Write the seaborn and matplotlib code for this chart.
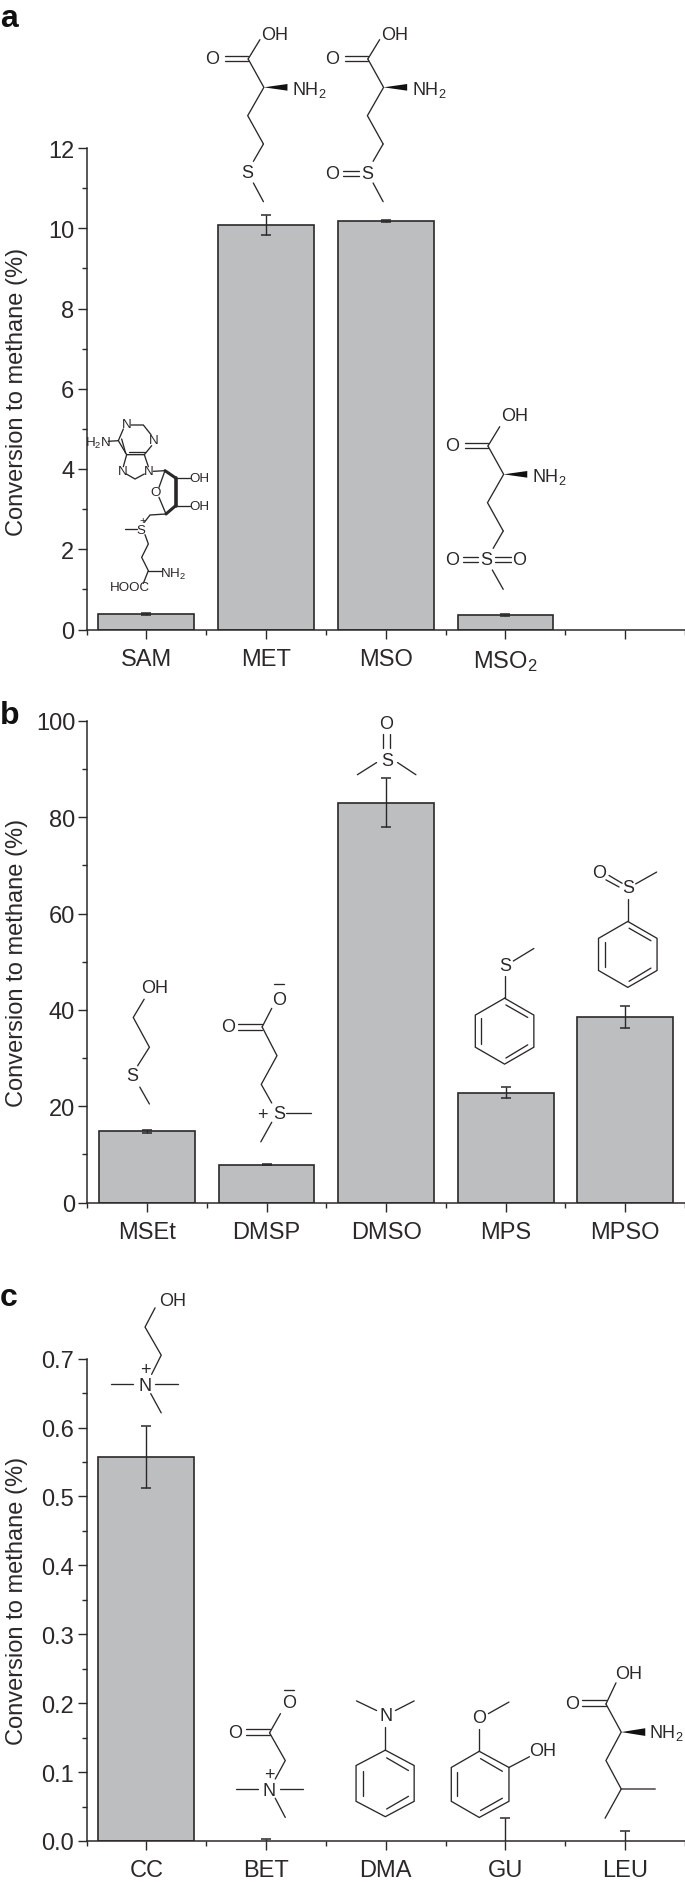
import matplotlib
matplotlib.use('Agg')
import matplotlib.pyplot as plt
from matplotlib.ticker import MultipleLocator, FixedLocator, NullFormatter
import numpy as np
import pandas as pd
import seaborn as sns

W, H = 685, 1883
INK = '#2b2829'
BAR = '#bcbec0'

# values
labels_a = ['SAM', 'MET', 'MSO', 'MSO$_2$', '']
values_a = [0.39, 10.07, 10.18, 0.36]
errors_a = [0.03, 0.25, 0.03, 0.03]

labels_b = ['MSEt', 'DMSP', 'DMSO', 'MPS', 'MPSO']
values_b = [14.8, 7.8, 83.0, 22.8, 38.5]
errors_b = [0.3, 0.1, 5.1, 1.1, 2.25]

labels_c = ['CC', 'BET', 'DMA', 'GU', 'LEU']
values_c = [0.557, 0.0, 0.0, 0.0, 0.0]
errors_c = [0.045, 0.003, 0.0, 0.0335, 0.014]

sns.set_theme(style='ticks')
plt.rcParams['font.family'] = ['Liberation Sans', 'DejaVu Sans']
plt.rcParams['mathtext.default'] = 'regular'
plt.rcParams['text.color'] = INK
plt.rcParams['axes.labelcolor'] = INK
plt.rcParams['xtick.color'] = INK
plt.rcParams['ytick.color'] = INK

fig = plt.figure(figsize=(W / 100, H / 100), dpi=100)


def draw_panel(box, labels, values, errors, ymax, major, minor, label_y=0.5):
    left, top, right, bottom = box
    ax = fig.add_axes([left / W, 1 - bottom / H, (right - left) / W, (bottom - top) / H])
    df = pd.DataFrame({'name': labels[:len(values)], 'value': values})
    sns.barplot(data=df, x='name', y='value', order=labels, color=BAR, saturation=1,
                width=0.8, edgecolor=INK, linewidth=1.2, errorbar=None, ax=ax)
    # empty bars leave no outline on the axis
    for p in ax.patches:
        if p.get_height() == 0:
            p.set_visible(False)
    keep = [i for i, e in enumerate(errors) if e > 0]
    ax.errorbar(keep, [values[i] for i in keep], yerr=[errors[i] for i in keep], fmt='none',
                ecolor=INK, elinewidth=1.0, capsize=3.3, capthick=1.1, zorder=5)
    ax.set_xlim(-0.5, len(labels) - 0.5)
    ax.set_ylim(0, ymax)
    ax.yaxis.set_major_locator(MultipleLocator(major))
    ax.yaxis.set_minor_locator(MultipleLocator(minor))
    ax.xaxis.set_minor_locator(FixedLocator(np.arange(len(labels) + 1) - 0.5))
    ax.xaxis.set_minor_formatter(NullFormatter())
    ax.tick_params(axis='both', which='major', length=6.3, width=1.0, labelsize=17, pad=2.5)
    ax.tick_params(axis='x', which='major', pad=7)
    ax.tick_params(axis='both', which='minor', length=3.6, width=1.0)
    sns.despine(ax=ax)
    for side in ['left', 'bottom']:
        ax.spines[side].set_linewidth(1.1)
        ax.spines[side].set_color(INK)
    ax.set_xlabel('')
    ax.set_ylabel('Conversion to methane (%)', fontsize=17)
    ax.yaxis.set_label_coords(-(left - 28) / (right - left), label_y)
    return ax


ax_a = draw_panel((86.5, 149, 685, 630.5), labels_a, values_a, errors_a, 12, 2, 1, 0.495)
ax_b = draw_panel((87.4, 722, 685, 1203.5), labels_b, values_b, errors_b, 100, 20, 10)
ax_c = draw_panel((86.5, 1359.6, 685, 1842), labels_c, values_c, errors_c, 0.7, 0.1, 0.05)
ax_c.yaxis.set_major_formatter(lambda v, pos: f'{v:.1f}')

# overlay in pixels for the panel letters and the structure drawings
ov = fig.add_axes([0, 0, 1, 1], facecolor='none')
ov.set_xlim(0, W)
ov.set_ylim(H, 0)
ov.axis('off')

for letter, y in [('a', 19), ('b', 716), ('c', 1298)]:
    ov.text(0, y, letter, fontsize=23, fontweight='bold', color='#111111', ha='left', va='center')


class Mol:
    # structure drawn in crop units, mapped to figure pixels
    def __init__(self, ox=0, oy=0, sx=2.289, sy=3.0, dx=0, dy=0, size=13):
        self.ox, self.oy, self.sx, self.sy = ox, oy, sx, sy
        self.dx, self.dy, self.size = dx, dy, size

    def xy(self, x, y):
        return self.ox + x / self.sx + self.dx, self.oy + y / self.sy + self.dy

    def line(self, *pts, lw=0.95):
        p = np.array([self.xy(*q) for q in pts])
        ov.plot(p[:, 0], p[:, 1], color=INK, lw=lw, solid_capstyle='round', solid_joinstyle='miter')

    def text(self, x, y, s, size=None):
        px, py = self.xy(x, y)
        ov.text(px, py, s, fontsize=size or self.size, ha='center', va='center', color=INK)

    def wedge(self, a, b1, b2):
        ov.fill(*zip(self.xy(*a), self.xy(*b1), self.xy(*b2)), color='#111111', lw=0)

    def ring(self, pts, inner):
        self.line(*pts, pts[0])
        for seg in inner:
            self.line(*seg)


def amino_head(m, oh_y=105):
    # carboxyl group + alpha carbon + side chain start, crop 1 units
    m.text(629, oh_y, 'OH')
    m.text(486, 178, 'O')
    m.line((568, 180), (595, 122))
    m.line((515, 172), (568, 172))
    m.line((515, 187), (568, 187))
    m.line((568, 180), (604, 265), (567, 350), (603, 435))
    m.wedge((604, 265), (658, 255), (658, 275))
    m.text(708, 271, 'NH$_2$')


# MET
m = Mol()
amino_head(m)
m.line((603, 435), (580, 487))
m.text(566, 520, 'S')
m.line((580, 552), (603, 608))

# MSO
m = Mol(dx=119.7)
amino_head(m)
m.line((603, 435), (580, 487))
m.text(566, 522, 'S')
m.text(487, 522, 'O')
m.line((510, 515), (547, 515))
m.line((510, 530), (547, 530))
m.line((580, 552), (603, 608))

# MSO2
m = Mol(dx=239.8, dy=387)
amino_head(m, oh_y=87)
m.line((603, 435), (580, 487))
m.text(563, 521, 'S')
m.text(486, 521, 'O')
m.text(640, 521, 'O')
m.line((510, 513), (545, 513))
m.line((510, 528), (545, 528))
m.line((585, 513), (620, 513))
m.line((585, 528), (620, 528))
m.line((578, 552), (603, 610))

# SAM
m = Mol(ox=85, oy=415, sx=3, sy=3, size=9.6)
m.text(125, 30, 'N')
m.text(207, 78, 'N')
m.text(38, 84, 'H$_2$N')
m.text(112, 172, 'N')
m.text(192, 172, 'N')
m.text(343, 192, 'OH')
m.text(343, 275, 'OH')
m.text(213, 235, 'O')
m.text(168, 347, 'S')
m.text(172, 318, '+', size=8)
m.text(265, 478, 'NH$_2$')
m.text(135, 518, 'HOOC')
m.line((138, 33), (175, 33), (198, 62))
m.line((200, 95), (178, 122), (125, 122), (100, 80), (115, 45))
m.line((122, 118), (110, 75))
m.line((70, 82), (100, 80))
m.line((125, 122), (115, 158))
m.line((178, 122), (190, 158))
m.line((180, 115), (132, 115))
m.line((124, 180), (150, 195), (178, 180))
m.line((205, 172), (240, 170))
m.line((240, 170), (222, 220))
m.line((222, 250), (243, 300))
m.line((240, 170), (272, 192), lw=2.2)
m.line((272, 192), (272, 275), lw=2.6)
m.line((272, 275), (243, 300), lw=2.2)
m.line((272, 192), (315, 192))
m.line((272, 275), (315, 275))
m.line((243, 300), (195, 303), (178, 325))
m.line((120, 345), (155, 345))
m.line((180, 362), (190, 390), (170, 430), (190, 470), (175, 508))
m.line((190, 470), (232, 470))

# panel b structures, crop 3 units
B = dict(oy=700, sy=2.958)
m = Mol(**B)
m.text(355, 852, 'OH')
m.line((330, 888), (305, 942), (342, 1030), (315, 1085))
m.text(303, 1115, 'S')
m.line((320, 1148), (342, 1198))

m = Mol(**B)
m.line((628, 843), (650, 843))
m.text(640, 890, 'O')
m.line((622, 915), (600, 970))
m.text(523, 970, 'O')
m.line((545, 962), (600, 962))
m.line((545, 978), (600, 978))
m.line((600, 970), (634, 1055), (598, 1140), (622, 1195))
m.text(638, 1225, 'S')
m.text(601, 1228, '+')
m.line((655, 1224), (712, 1224))
m.line((622, 1252), (597, 1310))

m = Mol(**B)
m.text(884, 72, 'O')
m.line((877, 105), (877, 145))
m.line((892, 105), (892, 145))
m.text(887, 182, 'S')
m.line((862, 188), (818, 224))
m.line((910, 188), (952, 224))


def phenyl(m, x, y):
    # x, y = top vertex of the ring
    m.ring([(x, y), (x + 67, y + 50), (x + 67, y + 145), (x, y + 195), (x - 67, y + 145), (x - 67, y + 50)],
           [((x + 3, y + 20), (x + 53, y + 57)),
            ((x - 53, y + 60), (x - 53, y + 135)),
            ((x + 3, y + 177), (x + 53, y + 138))])


m = Mol(**B)
m.text(1157, 788, 'S')
m.line((1175, 775), (1222, 738))
m.line((1155, 820), (1155, 885))
phenyl(m, 1155, 885)

m = Mol(**B)
m.text(1437, 557, 'S')
m.text(1372, 513, 'O')
m.line((1394, 522), (1424, 545))
m.line((1387, 535), (1417, 556))
m.line((1455, 547), (1503, 512))
m.line((1437, 592), (1437, 658))
phenyl(m, 1437, 658)

# panel c structures, crop 4 units
C = dict(oy=1280, sy=2.6)
m = Mol(**C)
m.text(395, 57, 'OH')
m.line((355, 75), (332, 125), (369, 198), (347, 248))
m.text(332, 235, '+')
m.text(331, 277, 'N')
m.line((255, 272), (305, 272))
m.line((355, 272), (408, 272))
m.line((345, 298), (369, 348))

m = Mol(**C)
m.line((651, 1068), (672, 1068))
m.text(661, 1100, 'O')
m.line((642, 1130), (617, 1180))
m.text(538, 1178, 'O')
m.line((562, 1170), (617, 1170))
m.line((562, 1186), (617, 1186))
m.line((617, 1180), (653, 1252), (630, 1300))
m.text(617, 1288, '+')
m.text(616, 1330, 'N')
m.line((540, 1325), (590, 1325))
m.line((640, 1325), (693, 1325))
m.line((630, 1350), (653, 1400))

m = Mol(**C)
m.text(883, 1135, 'N')
m.line((862, 1122), (816, 1097))
m.line((905, 1122), (948, 1097))
m.line((882, 1165), (882, 1225))
m.ring([(882, 1225), (948, 1265), (948, 1358), (882, 1398), (815, 1358), (815, 1265)],
       [((885, 1245), (935, 1278)), ((830, 1280), (830, 1345)), ((885, 1378), (935, 1345))])

m = Mol(**C)
m.text(1097, 1140, 'O')
m.line((1118, 1130), (1165, 1100))
m.line((1097, 1170), (1097, 1228))
m.ring([(1097, 1228), (1165, 1270), (1165, 1358), (1097, 1400), (1033, 1358), (1033, 1270)],
       [((1100, 1247), (1150, 1280)), ((1047, 1282), (1047, 1345)), ((1100, 1382), (1150, 1350))])
m.text(1243, 1225, 'OH')
m.line((1165, 1270), (1212, 1242))

m = Mol(**C)
m.text(1440, 1025, 'OH')
m.line((1387, 1105), (1410, 1050))
m.text(1310, 1103, 'O')
m.line((1332, 1095), (1387, 1095))
m.line((1332, 1110), (1387, 1110))
m.line((1387, 1105), (1422, 1178), (1387, 1252), (1422, 1326), (1500, 1326))
m.line((1422, 1326), (1385, 1402))
m.wedge((1422, 1178), (1477, 1168), (1477, 1188))
m.text(1525, 1177, 'NH$_2$')

fig.savefig('out.png', dpi=100)
